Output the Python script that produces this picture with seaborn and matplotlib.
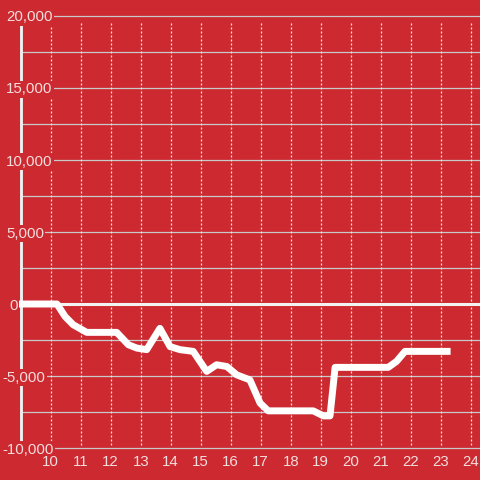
import matplotlib
matplotlib.use("Agg")
import matplotlib.pyplot as plt
import matplotlib.transforms as mtransforms
import numpy as np
import pandas as pd
import seaborn as sns

# hour of day vs running balance
hours = [8.93, 10.21, 10.48, 10.75, 11.2, 12.2, 12.59, 12.87, 13.2, 13.64,
         13.98, 14.31, 14.75, 15.2, 15.53, 15.87, 16.2, 16.64, 16.98, 17.25,
         18.75, 19.09, 19.31, 19.48, 21.25, 21.53, 21.81, 23.33]
balance = [0, 0, -870, -1440, -1970, -1970, -2830, -3060, -3170, -1690,
           -2960, -3170, -3290, -4680, -4220, -4340, -4920, -5270, -6880, -7420,
           -7420, -7770, -7770, -4400, -4400, -3980, -3290, -3290]

y_ticks = [-10000, -5000, 0, 5000, 10000, 15000, 20000]
x_ticks = list(range(10, 25))

RED = "#cc2a30"
TEXT = "#f3dede"

sns.set_style("ticks")
plt.rcParams["font.family"] = ["Liberation Sans", "DejaVu Sans"]

df = pd.DataFrame({"hour": hours, "balance": balance})

fig = plt.figure(figsize=(4.8, 4.8), dpi=100, facecolor=RED)
ax = fig.add_axes([0, 0, 1, 1])
ax.set_facecolor(RED)
for s in ax.spines.values():
    s.set_visible(False)
ax.set_xlim(8.31, 24.31)
ax.set_ylim(-12222, 21111)
ax.set_xticks([])
ax.set_yticks([])

# grid
ax.hlines(np.arange(-10000, 20001, 2500), 9, 24.31, colors="#c9c9c9", lw=0.9, zorder=1)
ax.vlines(x_ticks, -9771, 19535, colors="#e8e8e8", lw=0.9,
          linestyles=(0, (1.6, 1.6)), zorder=1)
ax.vlines(9, -10000, 20000, colors="#eeeeee", lw=2.1, zorder=2)
ax.hlines(0, 9, 24.31, colors="#f2f2f2", lw=2.2, zorder=2)

sns.lineplot(data=df, x="hour", y="balance", color="white", lw=5, ax=ax,
             zorder=3, solid_joinstyle="round", solid_capstyle="butt")

trans = mtransforms.blended_transform_factory(ax.transAxes, ax.transData)
trans = mtransforms.offset_copy(trans, fig=fig, y=-1.5, units="dots")
for v in y_ticks:
    if v < 0:
        xpos = 2.7 / 480
    elif v == 0:
        xpos = 9 / 480
    else:
        xpos = 6 / 480
    ax.text(xpos, v, f"{v:,}", transform=trans, ha="left", va="center",
            fontsize=10.8, color=TEXT, zorder=5,
            bbox=dict(facecolor=RED, edgecolor="none", pad=1))

for t in x_ticks:
    ax.text(t, -10951, str(t), ha="center", va="center", fontsize=10.8,
            color=TEXT, zorder=5)

ax.set_xlabel("")
ax.set_ylabel("")
fig.savefig("out.png", dpi=100, facecolor=RED)
